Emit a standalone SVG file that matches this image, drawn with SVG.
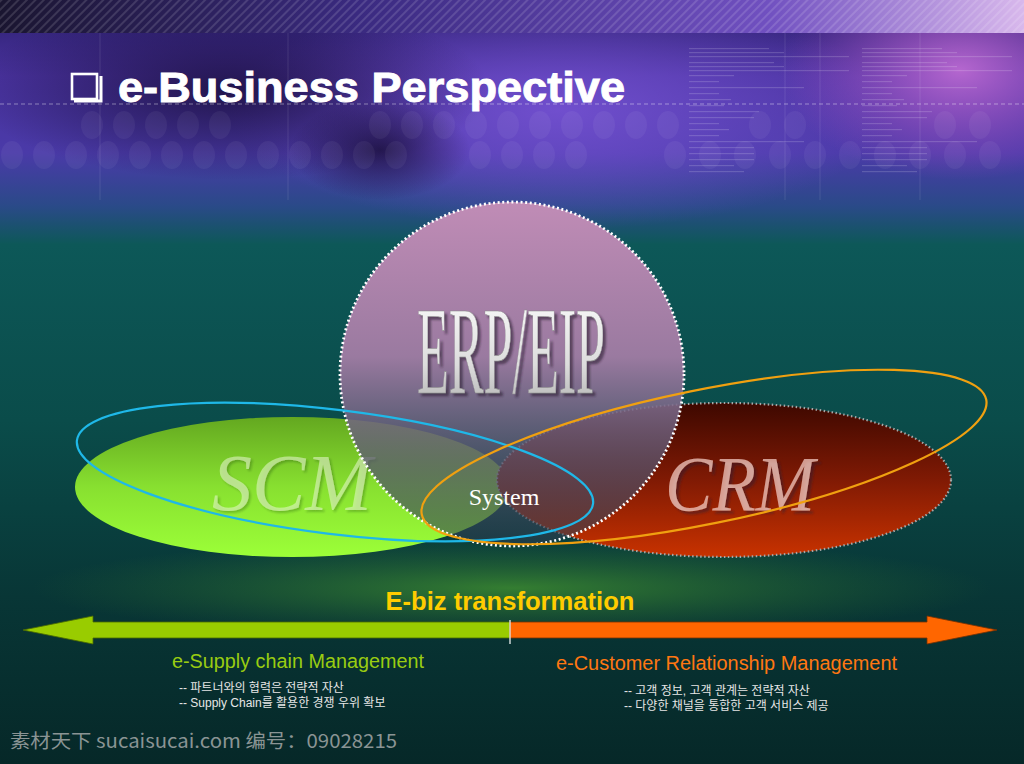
<svg xmlns="http://www.w3.org/2000/svg" width="1024" height="764" viewBox="0 0 1024 764">
<style>
.ko{font-family:"Liberation Sans","Noto Sans CJK KR",sans-serif;font-size:12px;fill:#e6e6e6}
.sub{font-family:"Liberation Sans",Arial,sans-serif;font-size:19.5px}
.ring{fill:none;stroke-width:2.2}
.dot{fill:#ffffff;opacity:0.05}
.tl{fill:#ffffff;opacity:0.16}
</style>
<defs>
<linearGradient id="bg" x1="0" y1="0" x2="0" y2="1">
<stop offset="0" stop-color="#2a1e6a"/>
<stop offset="0.1" stop-color="#4a33a0"/>
<stop offset="0.2" stop-color="#4a3aa8"/>
<stop offset="0.27" stop-color="#2a4a88"/>
<stop offset="0.32" stop-color="#0d5858"/>
<stop offset="0.55" stop-color="#0a4c4a"/>
<stop offset="0.78" stop-color="#083636"/>
<stop offset="1" stop-color="#062828"/>
</linearGradient>
<radialGradient id="purpleHi" cx="0.5" cy="0.5" r="0.5">
<stop offset="0" stop-color="#7a55d8" stop-opacity="0.8"/>
<stop offset="1" stop-color="#7a55d8" stop-opacity="0"/>
</radialGradient>
<radialGradient id="magHi" cx="0.5" cy="0.5" r="0.5">
<stop offset="0" stop-color="#c870d8" stop-opacity="0.85"/>
<stop offset="1" stop-color="#b050c8" stop-opacity="0"/>
</radialGradient>
<radialGradient id="darkBlob" cx="0.5" cy="0.5" r="0.5">
<stop offset="0" stop-color="#140a30" stop-opacity="0.75"/>
<stop offset="1" stop-color="#140a30" stop-opacity="0"/>
</radialGradient>
<radialGradient id="glow" cx="0.5" cy="0.5" r="0.5">
<stop offset="0" stop-color="#3c8a30" stop-opacity="0.85"/>
<stop offset="1" stop-color="#2a6a30" stop-opacity="0"/>
</radialGradient>
<linearGradient id="band" x1="0" y1="0" x2="1" y2="0">
<stop offset="0" stop-color="#1a1530"/>
<stop offset="0.35" stop-color="#3a2a80"/>
<stop offset="0.75" stop-color="#7050c0"/>
<stop offset="1" stop-color="#d8b8ec"/>
</linearGradient>
<pattern id="stripes" width="6" height="6" patternUnits="userSpaceOnUse" patternTransform="rotate(45)">
<rect width="2" height="6" fill="#ffffff" opacity="0.13"/>
</pattern>
<linearGradient id="erpFill" x1="0" y1="0" x2="0" y2="1">
<stop offset="0" stop-color="#c08cb6"/>
<stop offset="0.45" stop-color="#9a7aa0"/>
<stop offset="0.75" stop-color="#5a5670" stop-opacity="0.75"/>
<stop offset="1" stop-color="#2a3a4c" stop-opacity="0.55"/>
</linearGradient>
<linearGradient id="scmFill" x1="0" y1="0" x2="0" y2="1">
<stop offset="0" stop-color="#64a820"/>
<stop offset="0.5" stop-color="#88e030"/>
<stop offset="1" stop-color="#9cff38"/>
</linearGradient>
<linearGradient id="crmFill" x1="0" y1="0" x2="0" y2="1">
<stop offset="0" stop-color="#3e0800"/>
<stop offset="0.5" stop-color="#801a04"/>
<stop offset="1" stop-color="#c83200"/>
</linearGradient>
<linearGradient id="erpText" x1="0" y1="0" x2="0" y2="1">
<stop offset="0" stop-color="#ffffff"/>
<stop offset="0.6" stop-color="#dcdcdc"/>
<stop offset="1" stop-color="#a8a8a8"/>
</linearGradient>
<filter id="sh" x="-10%" y="-10%" width="130%" height="130%">
<feDropShadow dx="3" dy="3" stdDeviation="1.2" flood-color="#2a1a30" flood-opacity="0.6"/>
</filter>
<filter id="sh2" x="-10%" y="-10%" width="130%" height="130%">
<feDropShadow dx="2" dy="2" stdDeviation="1" flood-color="#1a2a00" flood-opacity="0.45"/>
</filter>
</defs>

<!-- background -->
<rect width="1024" height="764" fill="url(#bg)"/>
<ellipse cx="560" cy="110" rx="330" ry="120" fill="url(#purpleHi)"/>
<ellipse cx="960" cy="70" rx="180" ry="110" fill="url(#magHi)"/>
<ellipse cx="230" cy="90" rx="260" ry="90" fill="url(#darkBlob)"/>
<ellipse cx="380" cy="150" rx="90" ry="50" fill="url(#darkBlob)"/>
<ellipse cx="512" cy="588" rx="480" ry="50" fill="url(#glow)"/>
<rect x="0" y="0" width="1024" height="33" fill="url(#band)"/>
<rect x="0" y="0" width="1024" height="33" fill="url(#stripes)"/>

<!-- faint verticals -->
<g stroke="#ffffff" stroke-opacity="0.1" stroke-width="1">
<line x1="100" y1="33" x2="100" y2="200"/>
<line x1="288" y1="33" x2="288" y2="200"/>
<line x1="785" y1="33" x2="785" y2="200"/>
<line x1="820" y1="33" x2="820" y2="200"/>
<line x1="920" y1="33" x2="920" y2="200"/>
</g>
<line x1="0" y1="104" x2="1024" y2="104" stroke="#ffffff" stroke-opacity="0.4" stroke-width="1" stroke-dasharray="4 3"/>

<!-- faint dot rows -->
<g>
<ellipse class="dot" cx="92" cy="125" rx="11" ry="14"/><ellipse class="dot" cx="124" cy="125" rx="11" ry="14"/><ellipse class="dot" cx="156" cy="125" rx="11" ry="14"/><ellipse class="dot" cx="188" cy="125" rx="11" ry="14"/><ellipse class="dot" cx="220" cy="125" rx="11" ry="14"/>
<ellipse class="dot" cx="380" cy="125" rx="11" ry="14"/><ellipse class="dot" cx="412" cy="125" rx="11" ry="14"/><ellipse class="dot" cx="444" cy="125" rx="11" ry="14"/><ellipse class="dot" cx="476" cy="125" rx="11" ry="14"/><ellipse class="dot" cx="508" cy="125" rx="11" ry="14"/><ellipse class="dot" cx="540" cy="125" rx="11" ry="14"/><ellipse class="dot" cx="572" cy="125" rx="11" ry="14"/><ellipse class="dot" cx="604" cy="125" rx="11" ry="14"/><ellipse class="dot" cx="636" cy="125" rx="11" ry="14"/><ellipse class="dot" cx="668" cy="125" rx="11" ry="14"/>
<ellipse class="dot" cx="760" cy="125" rx="11" ry="14"/><ellipse class="dot" cx="795" cy="125" rx="11" ry="14"/><ellipse class="dot" cx="945" cy="125" rx="11" ry="14"/><ellipse class="dot" cx="980" cy="125" rx="11" ry="14"/>
<ellipse class="dot" cx="12" cy="155" rx="11" ry="14"/><ellipse class="dot" cx="44" cy="155" rx="11" ry="14"/><ellipse class="dot" cx="76" cy="155" rx="11" ry="14"/><ellipse class="dot" cx="108" cy="155" rx="11" ry="14"/><ellipse class="dot" cx="140" cy="155" rx="11" ry="14"/><ellipse class="dot" cx="172" cy="155" rx="11" ry="14"/><ellipse class="dot" cx="204" cy="155" rx="11" ry="14"/><ellipse class="dot" cx="236" cy="155" rx="11" ry="14"/><ellipse class="dot" cx="268" cy="155" rx="11" ry="14"/><ellipse class="dot" cx="300" cy="155" rx="11" ry="14"/><ellipse class="dot" cx="332" cy="155" rx="11" ry="14"/><ellipse class="dot" cx="364" cy="155" rx="11" ry="14"/><ellipse class="dot" cx="396" cy="155" rx="11" ry="14"/>
<ellipse class="dot" cx="480" cy="155" rx="11" ry="14"/><ellipse class="dot" cx="512" cy="155" rx="11" ry="14"/><ellipse class="dot" cx="544" cy="155" rx="11" ry="14"/><ellipse class="dot" cx="576" cy="155" rx="11" ry="14"/>
<ellipse class="dot" cx="675" cy="155" rx="11" ry="14"/><ellipse class="dot" cx="710" cy="155" rx="11" ry="14"/><ellipse class="dot" cx="745" cy="155" rx="11" ry="14"/><ellipse class="dot" cx="780" cy="155" rx="11" ry="14"/><ellipse class="dot" cx="815" cy="155" rx="11" ry="14"/><ellipse class="dot" cx="850" cy="155" rx="11" ry="14"/><ellipse class="dot" cx="885" cy="155" rx="11" ry="14"/><ellipse class="dot" cx="920" cy="155" rx="11" ry="14"/><ellipse class="dot" cx="955" cy="155" rx="11" ry="14"/><ellipse class="dot" cx="990" cy="155" rx="11" ry="14"/>
</g>

<!-- faint text-like lines top right (decorative) -->
<g>
<rect class="tl" x="689" y="48" width="80" height="1.2"/><rect class="tl" x="689" y="52" width="95" height="1.2"/><rect class="tl" x="689" y="56" width="160" height="1.2"/>
<rect class="tl" x="689" y="62" width="85" height="1.2"/><rect class="tl" x="689" y="66" width="95" height="1.2"/><rect class="tl" x="689" y="70" width="160" height="1.2"/>
<rect class="tl" x="689" y="75" width="45" height="1.2"/><rect class="tl" x="689" y="81" width="30" height="1.2"/><rect class="tl" x="689" y="87" width="115" height="1.2"/><rect class="tl" x="689" y="93" width="30" height="1.2"/><rect class="tl" x="689" y="99" width="42" height="1.2"/><rect class="tl" x="689" y="105" width="35" height="1.2"/><rect class="tl" x="689" y="111" width="70" height="1.2"/><rect class="tl" x="689" y="117" width="65" height="1.2"/><rect class="tl" x="689" y="123" width="30" height="1.2"/><rect class="tl" x="689" y="129" width="40" height="1.2"/><rect class="tl" x="689" y="135" width="30" height="1.2"/><rect class="tl" x="689" y="141" width="115" height="1.2"/><rect class="tl" x="689" y="147" width="65" height="1.2"/><rect class="tl" x="689" y="153" width="65" height="1.2"/><rect class="tl" x="689" y="159" width="65" height="1.2"/><rect class="tl" x="689" y="165" width="45" height="1.2"/><rect class="tl" x="689" y="171" width="55" height="1.2"/>
<rect class="tl" x="862" y="48" width="80" height="1.2"/><rect class="tl" x="862" y="52" width="95" height="1.2"/><rect class="tl" x="862" y="56" width="150" height="1.2"/>
<rect class="tl" x="862" y="62" width="85" height="1.2"/><rect class="tl" x="862" y="66" width="95" height="1.2"/><rect class="tl" x="862" y="70" width="150" height="1.2"/>
<rect class="tl" x="862" y="75" width="45" height="1.2"/><rect class="tl" x="862" y="81" width="30" height="1.2"/><rect class="tl" x="862" y="87" width="115" height="1.2"/><rect class="tl" x="862" y="93" width="30" height="1.2"/><rect class="tl" x="862" y="99" width="42" height="1.2"/><rect class="tl" x="862" y="105" width="35" height="1.2"/><rect class="tl" x="862" y="111" width="70" height="1.2"/><rect class="tl" x="862" y="117" width="65" height="1.2"/><rect class="tl" x="862" y="123" width="30" height="1.2"/><rect class="tl" x="862" y="129" width="40" height="1.2"/><rect class="tl" x="862" y="135" width="30" height="1.2"/><rect class="tl" x="862" y="141" width="115" height="1.2"/><rect class="tl" x="862" y="147" width="65" height="1.2"/><rect class="tl" x="862" y="153" width="65" height="1.2"/><rect class="tl" x="862" y="159" width="65" height="1.2"/><rect class="tl" x="862" y="165" width="45" height="1.2"/><rect class="tl" x="862" y="171" width="55" height="1.2"/>
</g>

<!-- title -->
<g id="title">
<rect x="72" y="74" width="25" height="25" fill="none" stroke="#ffffff" stroke-width="2.6"/>
<path d="M74 101 H101 V76" fill="none" stroke="#ffffff" stroke-width="3"/>
<text x="118" y="102" font-family="Liberation Sans, Arial, sans-serif" font-weight="bold" font-size="42" fill="#ffffff" stroke="#ffffff" stroke-width="0.9" textLength="507" lengthAdjust="spacingAndGlyphs">e-Business Perspective</text>
</g>

<!-- SCM -->
<g id="scm">
<ellipse cx="292" cy="487" rx="217" ry="70" fill="url(#scmFill)"/>
<text x="212" y="510" font-family="Liberation Serif, serif" font-style="italic" font-size="80" fill="#e8f8d0" fill-opacity="0.55" filter="url(#sh2)" textLength="160" lengthAdjust="spacingAndGlyphs">SCM</text>
</g>

<!-- CRM -->
<g id="crm">
<ellipse cx="724" cy="480" rx="227" ry="77" fill="url(#crmFill)" stroke="#a8a8a8" stroke-width="2.2" stroke-dasharray="1.5 2.5"/>
<text x="665" y="510" font-family="Liberation Serif, serif" font-style="italic" font-size="78" fill="#f0c8c0" fill-opacity="0.75" filter="url(#sh)" textLength="150" lengthAdjust="spacingAndGlyphs">CRM</text>
</g>

<!-- ERP/EIP -->
<g id="erp">
<circle cx="512" cy="374" r="172" fill="url(#erpFill)"/>
<circle cx="512" cy="374" r="172" fill="none" stroke="#ffffff" stroke-width="2.8" stroke-dasharray="2 2.6"/>
<text x="417" y="393" font-family="Liberation Serif, serif" font-size="124" fill="url(#erpText)" stroke="#8a8a8a" stroke-width="0.6" filter="url(#sh)" textLength="188" lengthAdjust="spacingAndGlyphs">ERP/EIP</text>
</g>

<!-- rings -->
<g id="connectors">
<ellipse class="ring" cx="335" cy="472" rx="260" ry="62" transform="rotate(7 335 472)" stroke="#1fb8e8"/>
<ellipse class="ring" cx="704" cy="457" rx="288" ry="67" transform="rotate(-11.5 704 457)" stroke="#f0a010"/>
</g>

<g id="system">
<text x="504" y="505" text-anchor="middle" font-family="Liberation Serif, serif" font-size="24" fill="#ffffff">System</text>
</g>

<!-- transformation arrow -->
<g id="arrow">
<text x="510" y="610" text-anchor="middle" font-family="Liberation Sans, Arial, sans-serif" font-weight="bold" font-size="25" fill="#ffcc00" textLength="249" lengthAdjust="spacingAndGlyphs">E-biz transformation</text>
<polygon points="23,630 93,616 93,622 510,622 510,638 93,638 93,644" fill="#99cc00" stroke="#4a6a00" stroke-width="0.8"/>
<polygon points="997,630 927,616 927,622 510,622 510,638 927,638 927,644" fill="#ff6600" stroke="#7a3000" stroke-width="0.8"/>
<line x1="510" y1="620" x2="510" y2="644" stroke="#ffffff" stroke-width="1.2"/>
</g>

<g id="scm-label">
<text class="sub" x="172" y="668" fill="#99cc11" textLength="252" lengthAdjust="spacingAndGlyphs">e-Supply chain Management</text>
<text class="ko" x="179" y="692">-- 파트너와의 협력은 전략적 자산</text>
<text class="ko" x="179" y="707">-- Supply Chain를 활용한 경쟁 우위 확보</text>
</g>

<g id="crm-label">
<text class="sub" x="556" y="670" fill="#ff7711" textLength="341" lengthAdjust="spacingAndGlyphs">e-Customer Relationship Management</text>
<text class="ko" x="624" y="695">-- 고객 정보, 고객 관계는 전략적 자산</text>
<text class="ko" x="624" y="710">-- 다양한 채널을 통합한 고객 서비스 제공</text>
</g>

<text x="10" y="748" font-family="Noto Sans CJK SC, sans-serif" font-size="19" fill="#8a9494" textLength="387" lengthAdjust="spacingAndGlyphs">素材天下 sucaisucai.com  编号：09028215</text>
</svg>
